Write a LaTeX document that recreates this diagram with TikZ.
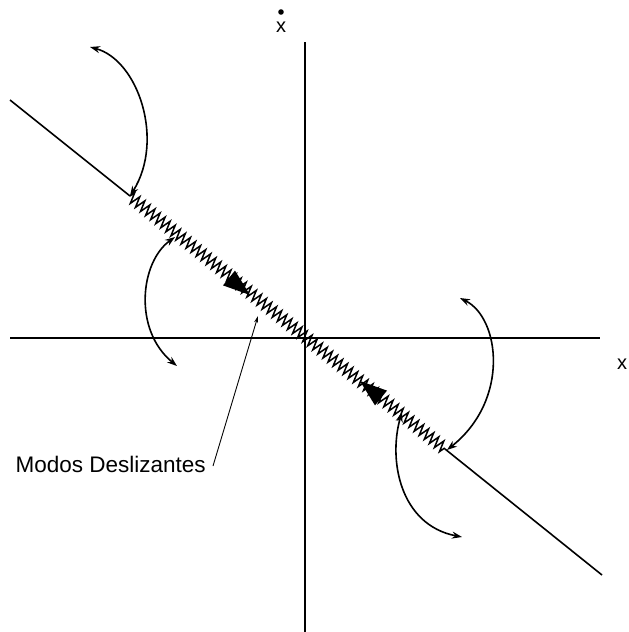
\documentclass[tikz,border=0pt]{standalone}
\usepackage{fontspec}
\setmainfont{Liberation Sans}
\usetikzlibrary{arrows.meta,decorations.pathmorphing}
\begin{document}
\begin{tikzpicture}[x=1pt,y=-1pt,
  axis/.style={line width=1.7pt},
  surf/.style={line width=1.6pt},
  zz/.style={line width=1.5pt,line join=miter,decorate,decoration={zigzag,segment length=6.5pt,amplitude=5.5pt}},
  traj/.style={line width=1.6pt,{Stealth[length=10pt,width=7pt]}-{Stealth[length=10pt,width=7pt]}},
  bigtip/.style={fill=black},
  leader/.style={line width=0.9pt,-{Stealth[length=7pt,width=4pt]}},
  lbl/.style={font=\fontsize{22.5pt}{26pt}\selectfont,inner sep=0pt},
  axlbl/.style={font=\fontsize{20pt}{22pt}\selectfont,inner sep=0pt}
]
\useasboundingbox (0,0) rectangle (629,632);
% axes
\coordinate (hl) at (10,338);
\coordinate (hr) at (600,338);
\coordinate (vt) at (305,42);
\coordinate (vb) at (305,632);
\draw[axis] (hl) -- (hr);
\draw[axis] (vt) -- (vb);
% sliding surface
\coordinate (d0) at (10,100);
\coordinate (z0) at (130,196);
\coordinate (z1) at (445,449);
\coordinate (d1) at (602,575);
\draw[surf] (d0) -- (z0);
\draw[surf] (z1) -- (d1);
\draw[zz] (z0) -- (z1);
% big arrowheads
\fill[bigtip] (250,295) -- (223,285.4) -- (235,270.6) -- cycle;
\fill[bigtip] (360,381) -- (375,405.4) -- (387,390.6) -- cycle;
% trajectories
\coordinate (c1a) at (90,47);
\coordinate (c2a) at (175,237);
\coordinate (c2b) at (177,366);
\coordinate (c3a) at (460,298);
\coordinate (c3b) at (447,450);
\coordinate (c4a) at (402,412);
\coordinate (c4b) at (462,537);
\draw[traj] (c1a) .. controls (138,60) and (165,140) .. (z0);
\draw[traj] (c2a) .. controls (140,262) and (133,330) .. (c2b);
\draw[traj] (c3a) .. controls (500,318) and (510,400) .. (c3b);
\draw[traj] (c4a) .. controls (388,460) and (400,525) .. (c4b);
% labels
\node[lbl,anchor=east] (modos) at (206,464) {Modos Deslizantes};
\coordinate (lt) at (258,316);
\draw[leader] (213,466) -- (lt);
\node[axlbl] (xdot) at (281,27) {x};
\fill (281,12) circle (2.8pt);
\node[axlbl] (xr) at (622,364) {x};
\end{tikzpicture}
\end{document}
